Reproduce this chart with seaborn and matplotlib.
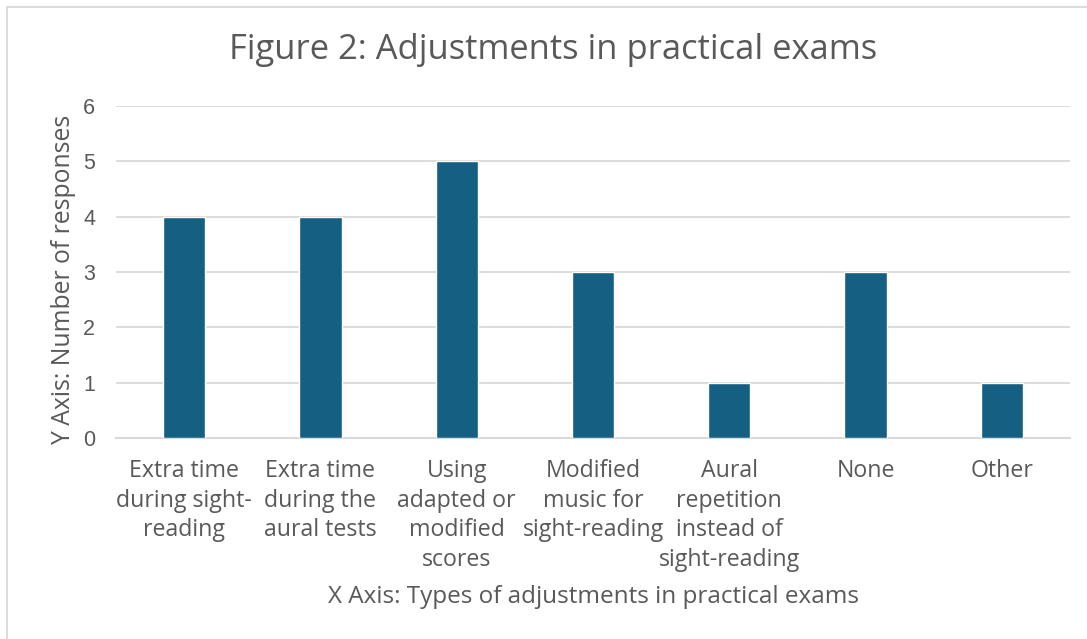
import matplotlib
matplotlib.use("Agg")
import matplotlib.pyplot as plt
import seaborn as sns
import pandas as pd
from matplotlib.patches import Rectangle

categories = [
    "Extra time\nduring sight-\nreading",
    "Extra time\nduring the\naural tests",
    "Using\nadapted or\nmodified\nscores",
    "Modified\nmusic for\nsight-reading",
    "Aural\nrepetition\ninstead of\nsight-reading",
    "None",
    "Other",
]
responses = [4, 4, 5, 3, 1, 3, 1]
yticks = [0, 1, 2, 3, 4, 5, 6]

title = "Figure 2: Adjustments in practical exams"
xlabel = "X Axis: Types of adjustments in practical exams"
ylabel = "Y Axis: Number of responses"

sns.set_theme(style="white")
plt.rcParams["font.family"] = ["Open Sans", "DejaVu Sans"]

text_color = "#595959"
bar_color = "#156082"
grid_color = "#d9d9d9"

df = pd.DataFrame({"category": categories, "responses": responses})

W, H = 1087, 639
fig = plt.figure(figsize=(W / 100, H / 100), dpi=100)
ax = fig.add_axes([116 / W, 1 - 438 / H, (1070 - 116) / W, (438 - 106) / H])

sns.barplot(data=df, x="category", y="responses", color=bar_color,
            width=0.31, saturation=1, ax=ax, zorder=3)

ax.set_ylim(0, 6)
ax.set_yticks(yticks)
ax.set_xlim(-0.5, len(categories) - 0.5)
ax.yaxis.grid(True, color=grid_color, linewidth=1.3, zorder=0)
ax.set_axisbelow(True)
for s in ["top", "right", "left"]:
    ax.spines[s].set_visible(False)
ax.spines["bottom"].set_color(grid_color)
ax.spines["bottom"].set_linewidth(1.5)
ax.tick_params(axis="both", length=0)
ax.tick_params(axis="y", pad=15, labelsize=15.5, labelcolor=text_color)
ax.tick_params(axis="x", pad=15, labelsize=16.7, labelcolor=text_color)
for lab in ax.get_yticklabels():
    lab.set_fontfamily(["Liberation Sans", "DejaVu Sans"])
for lab in ax.get_xticklabels():
    lab.set_linespacing(1.32)
    lab.set_verticalalignment("top")

ax.set_xlabel(xlabel, fontsize=17.5, color=text_color, labelpad=9)
ax.set_ylabel(ylabel, fontsize=17.8, color=text_color, labelpad=5)
ax.yaxis.label.set_y(0.476)

fig.text(553 / W, 1 - 50 / H, title, ha="center", va="center",
         fontsize=24.8, color=text_color)

fig.patches.append(Rectangle((7 / W, -0.1), 1.2, 1 - 7 / H + 0.1,
                             transform=fig.transFigure, fill=False,
                             edgecolor="#d9d9d9", linewidth=1.3))

fig.savefig("out.png", dpi=100, facecolor="white")
